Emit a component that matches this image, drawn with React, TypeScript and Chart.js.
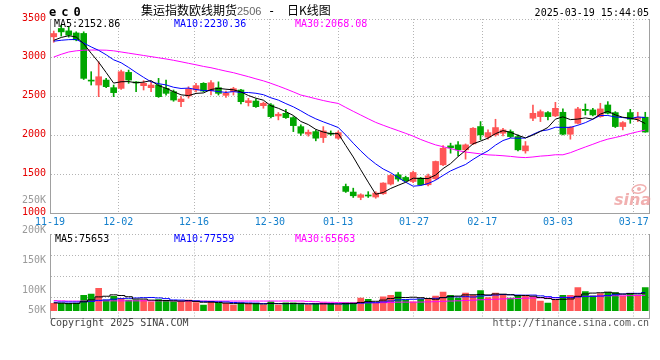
import React, { useEffect, useRef } from 'react';
import { Chart, registerables } from 'chart.js';

Chart.register(...registerables);

// ---------------- data ----------------
const DATES = [
  '11-19', '11-20', '11-21', '11-22', '11-25', '11-26', '11-27', '11-28', '11-29',
  '12-02', '12-03', '12-04', '12-05', '12-06', '12-09', '12-10', '12-11', '12-12', '12-13',
  '12-16', '12-17', '12-18', '12-19', '12-20', '12-23', '12-24', '12-25', '12-26', '12-27',
  '12-30', '12-31', '01-02', '01-03', '01-06', '01-07', '01-08', '01-09', '01-10',
  '01-13', '01-14', '01-15', '01-16', '01-17', '01-20', '01-21', '01-22', '01-23', '01-24',
  '01-27', '02-05', '02-06', '02-07', '02-10', '02-11', '02-12', '02-13', '02-14',
  '02-17', '02-18', '02-19', '02-20', '02-21', '02-24', '02-25', '02-26', '02-27', '02-28',
  '03-03', '03-04', '03-05', '03-06', '03-07', '03-10', '03-11', '03-12', '03-13', '03-14',
  '03-17', '03-18', '03-19',
];

const TICK_DATES = ['11-19', '12-02', '12-16', '12-30', '01-13', '01-27', '02-17', '03-03', '03-17'];
const PRICE_TICKS = [1000, 1500, 2000, 2500, 3000, 3500];
const VOL_TICKS = [250, 200, 150, 100, 50];
const VOL_TICK_LABELS = ['250K', '200K', '150K', '100K', '50K'];

const OPEN = [
  3270, 3378, 3347, 3320, 3314, 2712, 2649, 2713, 2615, 2606,
  2812, 2684, 2641, 2615, 2649, 2606, 2564, 2435, 2508, 2585,
  2671, 2576, 2615, 2516, 2563, 2585, 2422, 2443, 2383, 2392,
  2251, 2285, 2229, 2113, 2016, 2049, 1972, 2024, 1964, 1342,
  1270, 1201, 1226, 1206, 1248, 1373, 1492, 1458, 1406, 1450,
  1364, 1441, 1621, 1865, 1878, 1814, 1891, 2114, 1977, 2006,
  2028, 2049, 1985, 1801, 2221, 2242, 2294, 2251, 2298, 2015,
  2156, 2336, 2328, 2242, 2392, 2294, 2114, 2294, 2208, 2234,
];
const HIGH = [
  3345, 3420, 3395, 3335, 3335, 2821, 2949, 2735, 2649, 2842,
  2842, 2692, 2705, 2690, 2735, 2713, 2585, 2499, 2627, 2670,
  2680, 2705, 2690, 2570, 2620, 2594, 2478, 2470, 2430, 2410,
  2295, 2335, 2242, 2135, 2070, 2070, 2113, 2058, 2058, 1373,
  1320, 1248, 1275, 1275, 1390, 1500, 1520, 1475, 1540, 1460,
  1500, 1670, 1869, 1900, 1921, 1890, 2100, 2178, 2071, 2208,
  2092, 2071, 2006, 1921, 2392, 2328, 2306, 2426, 2341, 2114,
  2362, 2405, 2350, 2414, 2435, 2306, 2178, 2336, 2298, 2298,
];
const LOW = [
  3200, 3280, 3266, 3219, 2720, 2649, 2499, 2615, 2499, 2593,
  2671, 2564, 2585, 2564, 2490, 2520, 2440, 2371, 2480, 2560,
  2560, 2521, 2520, 2490, 2520, 2405, 2379, 2360, 2350, 2225,
  2200, 2220, 2049, 2000, 1990, 1930, 1908, 2000, 1950, 1265,
  1200, 1171, 1200, 1190, 1240, 1360, 1410, 1408, 1390, 1355,
  1350, 1430, 1610, 1771, 1737, 1694, 1880, 1942, 1951, 1990,
  1994, 1970, 1801, 1771, 2191, 2178, 2200, 2242, 2006, 1951,
  2148, 2264, 2250, 2234, 2276, 2101, 2071, 2156, 2178, 2041,
];
const CLOSE = [
  3313, 3334, 3292, 3232, 2735, 2700, 2756, 2628, 2551, 2821,
  2713, 2676, 2671, 2649, 2499, 2542, 2456, 2469, 2598, 2641,
  2572, 2679, 2542, 2542, 2603, 2435, 2447, 2370, 2414, 2242,
  2273, 2229, 2126, 2028, 2041, 1964, 2058, 2016, 2036, 1278,
  1222, 1235, 1219, 1257, 1386, 1484, 1437, 1415, 1522, 1364,
  1479, 1664, 1835, 1840, 1814, 1878, 2092, 2006, 2036, 2101,
  2071, 1985, 1814, 1865, 2285, 2306, 2242, 2349, 2015, 2105,
  2341, 2320, 2264, 2341, 2285, 2114, 2165, 2208, 2234, 2043,
];

const MA5 = [
  3225, 3262, 3285, 3268, 3181.2, 3058.6, 2943.0, 2810.2, 2674.0, 2691.2,
  2693.8, 2677.8, 2686.4, 2706.0, 2641.6, 2607.4, 2563.4, 2523.0, 2512.8, 2541.2,
  2547.2, 2591.8, 2606.4, 2595.2, 2587.6, 2560.2, 2513.8, 2479.4, 2453.8, 2381.6,
  2349.2, 2305.6, 2256.8, 2179.6, 2139.4, 2077.6, 2043.4, 2021.4, 2023.0, 1870.4,
  1722.0, 1557.4, 1398.0, 1242.2, 1263.8, 1316.2, 1356.6, 1395.8, 1448.8, 1444.4,
  1443.4, 1488.8, 1572.8, 1636.4, 1726.4, 1806.2, 1891.8, 1926.0, 1965.2, 2022.6,
  2061.2, 2039.8, 2001.4, 1967.2, 2004.0, 2051.0, 2102.4, 2209.4, 2239.4, 2203.4,
  2210.4, 2226.0, 2209.0, 2274.2, 2310.2, 2264.8, 2233.8, 2222.6, 2201.2, 2152.86,
];
const MA10 = [
  3214, 3226, 3234, 3236, 3190, 3140, 3096, 3039, 2974, 2936.2,
  2876.2, 2810.4, 2748.3, 2690.0, 2666.4, 2650.6, 2620.6, 2604.7, 2609.4, 2591.4,
  2577.3, 2577.6, 2564.7, 2554.0, 2564.4, 2553.7, 2552.8, 2542.9, 2524.5, 2484.6,
  2454.7, 2409.7, 2368.1, 2316.7, 2260.5, 2213.4, 2174.5, 2139.1, 2101.3, 2004.9,
  1899.8, 1800.4, 1709.7, 1632.6, 1567.1, 1519.1, 1457.0, 1396.9, 1345.5, 1354.1,
  1379.8, 1422.7, 1484.3, 1542.6, 1585.4, 1624.8, 1690.3, 1749.4, 1800.8, 1874.5,
  1933.7, 1965.8, 1963.7, 1966.2, 2013.3, 2056.1, 2071.1, 2105.4, 2103.3, 2103.7,
  2130.7, 2164.2, 2209.2, 2256.8, 2256.8, 2237.6, 2229.9, 2215.8, 2237.7, 2230.36,
];
const MA30 = [
  3010, 3045, 3075, 3090, 3098, 3100, 3100, 3098, 3090, 3075,
  3060, 3045, 3030, 3015, 3000, 2985, 2968, 2949, 2929, 2910,
  2889, 2872, 2850, 2828, 2808, 2782, 2757, 2729, 2703, 2670.7,
  2636.1, 2599.2, 2560.4, 2520.2, 2497.1, 2472.6, 2449.3, 2428.9, 2411.7, 2360.3,
  2310.6, 2262.6, 2214.2, 2167.8, 2130.7, 2095.4, 2061.4, 2026.3, 1990.4, 1947.9,
  1911.4, 1877.6, 1854.0, 1830.6, 1804.3, 1785.8, 1773.9, 1761.8, 1749.2, 1744.5,
  1737.8, 1729.6, 1719.2, 1713.8, 1721.9, 1733.3, 1739.5, 1750.6, 1749.9, 1777.4,
  1814.7, 1850.9, 1885.7, 1921.9, 1951.8, 1972.8, 1997.1, 2023.5, 2047.3, 2068.08,
];

// volume in thousands (K)
const VOLUME = [
  31, 31, 31, 31, 66, 71, 96, 45, 61, 52,
  45, 45, 45, 38, 47, 42, 38, 38, 45, 35,
  24, 40, 31, 31, 24, 31, 31, 31, 24, 38,
  24, 33, 33, 28, 24, 28, 33, 31, 24, 33,
  33, 54, 49, 31, 59, 66, 80, 45, 38, 49,
  49, 63, 80, 66, 54, 75, 66, 86, 56, 75,
  70, 54, 66, 61, 59, 41, 32, 45, 66, 66,
  99, 82, 64, 73, 79, 78, 62, 74, 66, 99,
];
const VOL_MA5 = [
  33, 32, 30, 31, 38.0, 46.0, 59.0, 61.8, 67.8, 65.0,
  59.8, 49.6, 49.6, 45.0, 44.0, 43.4, 42.0, 40.6, 42.0, 39.6,
  36.0, 36.4, 35.0, 32.2, 30.0, 31.4, 29.6, 29.6, 28.2, 31.0,
  29.6, 30.0, 30.4, 31.2, 28.4, 29.2, 29.2, 28.8, 28.0, 29.8,
  30.8, 35.0, 38.6, 40.0, 45.2, 51.8, 57.0, 56.2, 57.6, 55.6,
  52.2, 48.8, 55.8, 61.4, 62.4, 67.6, 68.2, 69.4, 67.4, 71.6,
  70.6, 68.2, 64.2, 65.2, 62.0, 56.2, 51.8, 47.6, 48.6, 50.0,
  61.6, 71.6, 75.4, 76.8, 79.4, 75.2, 71.2, 73.2, 71.8, 75.653,
];
const VOL_MA10 = [
  36, 37, 37, 37, 38, 40, 44, 46, 49, 51.5,
  52.9, 54.3, 55.7, 56.4, 54.5, 51.6, 45.8, 45.1, 43.5, 41.8,
  39.7, 39.2, 37.8, 37.1, 34.8, 33.7, 33.0, 32.3, 30.2, 30.5,
  30.5, 29.8, 30.0, 29.7, 29.7, 29.4, 29.6, 29.6, 29.6, 29.1,
  30.0, 32.1, 33.7, 34.0, 37.5, 41.3, 46.0, 47.4, 48.8, 50.4,
  52.0, 52.9, 56.0, 59.5, 59.0, 59.9, 58.5, 62.6, 64.4, 67.0,
  69.1, 68.2, 66.8, 66.3, 66.8, 63.4, 60.0, 55.9, 56.9, 56.0,
  58.9, 61.7, 61.5, 62.7, 64.7, 68.4, 71.4, 74.3, 74.3, 77.559,
];
const VOL_MA30 = [
  43, 42, 41, 41, 41, 41, 42, 42, 42, 42,
  42, 42, 42, 42, 42, 42, 42, 41, 41, 41,
  41, 41, 41, 41, 41, 41, 41, 41, 41, 41.3,
  41.0, 41.1, 41.2, 41.1, 39.7, 38.2, 36.1, 35.7, 34.4, 33.8,
  33.4, 33.7, 33.8, 33.6, 34.0, 34.8, 36.2, 36.4, 36.2, 36.7,
  37.5, 38.3, 39.9, 41.1, 42.1, 43.5, 44.7, 46.5, 47.6, 48.8,
  50.4, 51.1, 52.2, 53.3, 54.4, 54.9, 54.8, 55.3, 56.7, 57.8,
  60.0, 60.9, 61.4, 62.8, 63.5, 63.9, 63.3, 64.3, 65.2, 65.663,
];

// ---------------- style ----------------
const UP = '#ff5656';
const DOWN = '#00a600';
const GRID = '#b4b4b4';
const FRAME = '#a0a0a0';
const DATE_COLOR = '#1580cc';
const MONO = '"DejaVu Sans Mono", monospace';
const CJK = '"Noto Sans CJK SC", sans-serif';
const MAIN_H = 232;
const VOL_TOP = 190;
const VOL_H = 145;

const candleColors = OPEN.map((o, i) => (CLOSE[i] >= o ? UP : DOWN));
const tickIndices = TICK_DATES.map((d) => DATES.indexOf(d));
const last = (a: number[]) => a[a.length - 1];

const mainTextPlugin = {
  id: 'mainText',
  beforeDatasetsDraw(chart: any) {
    const ctx = chart.ctx;
    ctx.save();
    // sina watermark
    ctx.strokeStyle = 'rgba(236,150,150,0.75)';
    ctx.fillStyle = 'rgba(236,150,150,0.75)';
    ctx.lineWidth = 1.5;
    ctx.beginPath();
    ctx.ellipse(639, 189, 7, 4, -0.2, 0, Math.PI * 2);
    ctx.stroke();
    ctx.beginPath();
    ctx.arc(639, 189, 2, 0, Math.PI * 2);
    ctx.fill();
    ctx.font = 'italic bold 16px "DejaVu Sans", sans-serif';
    ctx.textBaseline = 'alphabetic';
    ctx.fillText('sina', 614, 205);
    ctx.restore();
  },
  afterDraw(chart: any) {
    const ctx = chart.ctx;
    ctx.save();
    ctx.textBaseline = 'alphabetic';
    ctx.textAlign = 'left';
    // product code
    ctx.fillStyle = '#000';
    ctx.font = `bold 12px ${MONO}`;
    try { (ctx as any).letterSpacing = '5px'; } catch (e) {}
    ctx.fillText('ec0', 49, 16);
    try { (ctx as any).letterSpacing = '0px'; } catch (e) {}
    // title
    ctx.font = `12px ${CJK}`;
    ctx.fillText('集运指数欧线期货', 141, 15);
    ctx.fillStyle = '#666';
    ctx.font = '11px "Liberation Sans", sans-serif';
    ctx.fillText('2506', 237, 15);
    ctx.fillStyle = '#000';
    ctx.font = `12px ${MONO}`;
    ctx.fillText('-', 268, 15);
    ctx.font = `12px ${CJK}`;
    ctx.fillText('日K线图', 287, 15);
    // timestamp
    ctx.font = `10px ${MONO}`;
    ctx.textAlign = 'right';
    ctx.fillText('2025-03-19 15:44:05', 649, 16);
    // MA legend
    ctx.textAlign = 'left';
    ctx.fillStyle = '#000';
    ctx.fillText(`MA5:${last(MA5).toFixed(2)}`, 54, 27);
    ctx.fillStyle = '#0000ff';
    ctx.fillText(`MA10:${last(MA10).toFixed(2)}`, 174, 27);
    ctx.fillStyle = '#ff00ff';
    ctx.fillText(`MA30:${last(MA30).toFixed(2)}`, 295, 27);
    ctx.restore();
  },
};

const volTextPlugin = {
  id: 'volText',
  afterDraw(chart: any) {
    const ctx = chart.ctx;
    const yOff = VOL_TOP;
    ctx.save();
    ctx.textBaseline = 'alphabetic';
    ctx.font = `10px ${MONO}`;
    ctx.textAlign = 'left';
    ctx.fillStyle = '#000';
    ctx.fillText(`MA5:${Math.round(last(VOL_MA5) * 1000)}`, 55, 241.5 - yOff);
    ctx.fillStyle = '#0000ff';
    ctx.fillText(`MA10:${Math.round(last(VOL_MA10) * 1000)}`, 174, 241.5 - yOff);
    ctx.fillStyle = '#ff00ff';
    ctx.fillText(`MA30:${Math.round(last(VOL_MA30) * 1000)}`, 295, 241.5 - yOff);
    ctx.fillStyle = '#444';
    ctx.fillText('Copyright 2025 SINA.COM', 50, 326 - yOff);
    ctx.textAlign = 'right';
    ctx.fillStyle = '#555';
    ctx.fillText('http://finance.sina.com.cn', 649, 326 - yOff);
    ctx.restore();
  },
};

function dateAxis(showLabels: boolean, height: number) {
  return {
    type: 'linear',
    position: 'bottom',
    offset: false,
    min: 0,
    max: DATES.length - 1,
    afterBuildTicks: (s: any) => {
      s.ticks = tickIndices.map((v) => ({ value: v }));
    },
    afterFit: (s: any) => {
      s.height = height;
    },
    ticks: {
      display: showLabels,
      autoSkip: false,
      maxRotation: 0,
      color: DATE_COLOR,
      font: { family: MONO, size: 10 },
      padding: 3,
      callback: (v: number) => DATES[v],
    },
    grid: { color: GRID, drawTicks: false, offset: false },
    border: { display: true, color: FRAME, dash: [1, 2] },
  };
}

const rightFrame = {
  type: 'linear',
  position: 'right',
  min: 0,
  max: 1,
  ticks: { display: false },
  grid: { display: false, drawTicks: false },
  border: { display: true, color: FRAME },
  afterFit: (s: any) => {
    s.width = 0;
  },
};

function lineDs(label: string, data: number[], color: string, yAxisID: string, stepped: any) {
  return {
    type: 'line',
    label,
    data,
    borderColor: color,
    backgroundColor: color,
    borderWidth: 1,
    pointRadius: 0,
    tension: 0,
    stepped,
    order: 0,
    xAxisID: 'x',
    yAxisID,
  };
}

export default function App() {
  const mainRef = useRef<HTMLCanvasElement>(null);
  const volRef = useRef<HTMLCanvasElement>(null);

  useEffect(() => {
    const main = new Chart(mainRef.current as HTMLCanvasElement, {
      type: 'bar',
      data: {
        labels: DATES,
        datasets: [
          lineDs('MA5', MA5, '#000000', 'y', false),
          lineDs('MA10', MA10, '#0000ff', 'y', false),
          lineDs('MA30', MA30, '#ff00ff', 'y', false),
          {
            type: 'bar',
            label: 'body',
            data: OPEN.map((o, i) => [o, CLOSE[i]]),
            backgroundColor: candleColors,
            borderWidth: 0,
            barThickness: 6,
            minBarLength: 1,
            grouped: false,
            order: 1,
            xAxisID: 'x',
            yAxisID: 'y',
          },
          {
            type: 'bar',
            label: 'wick',
            data: LOW.map((l, i) => [l, HIGH[i]]),
            backgroundColor: candleColors,
            borderWidth: 0,
            barThickness: 1,
            grouped: false,
            order: 2,
            xAxisID: 'x',
            yAxisID: 'y',
          },
        ] as any,
      },
      options: {
        animation: false,
        responsive: false,
        events: [],
        layout: { padding: { top: 19, right: 11, left: 0, bottom: 0 } },
        plugins: { legend: { display: false }, tooltip: { enabled: false }, title: { display: false } },
        scales: {
          x: { type: 'category', display: false, offset: true },
          xd: dateAxis(true, MAIN_H - 213),
          y: {
            type: 'linear',
            position: 'left',
            min: PRICE_TICKS[0],
            max: PRICE_TICKS[PRICE_TICKS.length - 1],
            afterBuildTicks: (s: any) => {
              s.ticks = PRICE_TICKS.map((v) => ({ value: v }));
            },
            afterFit: (s: any) => {
              s.width = 50;
            },
            ticks: {
              color: '#e60000',
              font: { family: MONO, size: 10 },
              padding: 4,
              labelOffset: -1,
              autoSkip: false,
              callback: (v: number) => String(v),
            },
            grid: { color: GRID, drawTicks: false },
            border: { display: true, color: FRAME, dash: [1, 2] },
          },
          yr: rightFrame,
        } as any,
      },
      plugins: [mainTextPlugin],
    } as any);

    const vol = new Chart(volRef.current as HTMLCanvasElement, {
      type: 'bar',
      data: {
        labels: DATES,
        datasets: [
          lineDs('VMA5', VOL_MA5, '#000000', 'yv', 'middle'),
          lineDs('VMA10', VOL_MA10, '#0000ff', 'yv', 'middle'),
          lineDs('VMA30', VOL_MA30, '#ff00ff', 'yv', 'middle'),
          {
            type: 'bar',
            label: 'volume',
            data: VOLUME,
            backgroundColor: candleColors,
            borderWidth: 0,
            barThickness: 6,
            order: 1,
            xAxisID: 'x',
            yAxisID: 'yv',
          },
        ] as any,
      },
      options: {
        animation: false,
        responsive: false,
        events: [],
        layout: { padding: { top: 234.5 - VOL_TOP, right: 11, left: 0, bottom: 0 } },
        plugins: { legend: { display: false }, tooltip: { enabled: false } },
        scales: {
          x: { type: 'category', display: false, offset: true },
          xd: dateAxis(false, VOL_TOP + VOL_H - 318),
          yv: {
            type: 'linear',
            position: 'left',
            weight: 0,
            min: -32,
            max: 328,
            afterBuildTicks: (s: any) => {
              const step = (s.max - s.min) / 4;
              s.ticks = [0, 1, 2, 3, 4].map((k) => ({ value: s.min + k * step }));
            },
            afterFit: (s: any) => {
              s.width = 0;
            },
            ticks: { display: false },
            grid: { color: GRID, drawTicks: false },
            border: { display: true, color: FRAME, dash: [1, 2] },
          },
          yl: {
            type: 'linear',
            position: 'left',
            weight: 1,
            min: 54.5,
            max: 193.7,
            afterBuildTicks: (s: any) => {
              // keep the lowest label inside the panel, like the original
              s.ticks = VOL_TICKS.map((v) => ({ value: Math.max(v, s.min + 12.5) }));
            },
            afterFit: (s: any) => {
              s.width = 50;
            },
            ticks: {
              autoSkip: false,
              color: '#9a9a9a',
              font: { family: MONO, size: 10 },
              padding: 4,
              callback: (_v: number, i: number) => VOL_TICK_LABELS[i],
            },
            grid: { display: false, drawTicks: false },
            border: { display: false },
          },
          yr: rightFrame,
        } as any,
      },
      plugins: [volTextPlugin],
    } as any);

    return () => {
      main.destroy();
      vol.destroy();
    };
  }, []);

  return (
    <div style={{ position: 'fixed', left: 0, top: 0, width: 660, height: 360, background: '#fff' }}>
      <canvas ref={mainRef} width={660} height={MAIN_H} style={{ position: 'absolute', left: 0, top: 0 }} />
      <canvas ref={volRef} width={660} height={VOL_H} style={{ position: 'absolute', left: 0, top: VOL_TOP }} />
    </div>
  );
}
